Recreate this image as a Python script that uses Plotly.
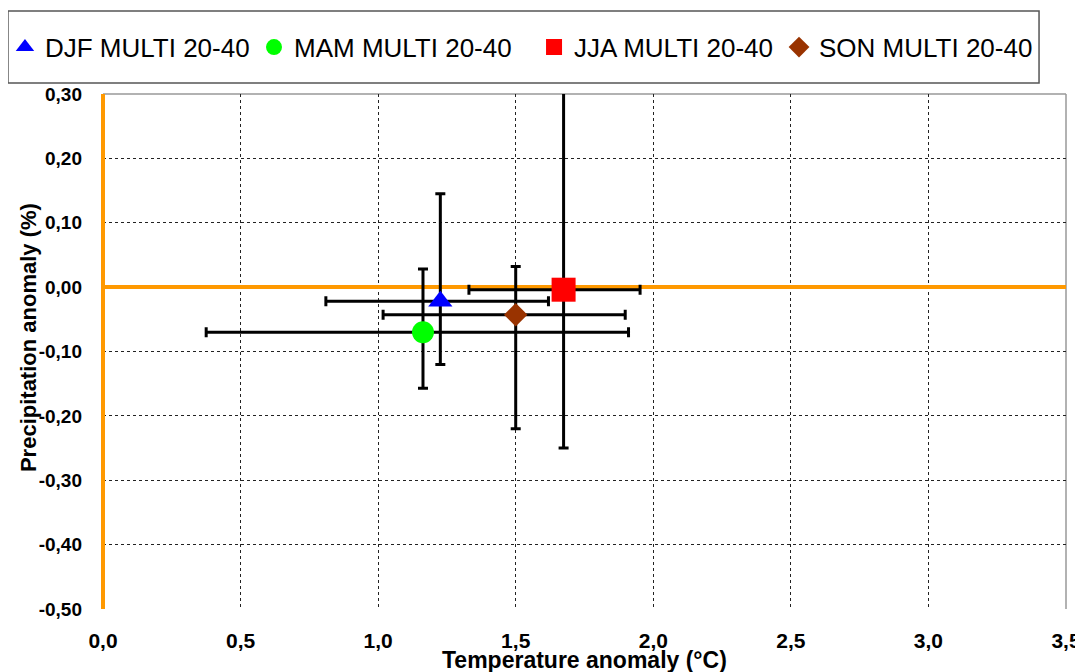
import plotly.graph_objects as go

# ---- data ----
series_names = ["DJF MULTI 20-40", "MAM MULTI 20-40", "JJA MULTI 20-40", "SON MULTI 20-40"]
temp = [1.226, 1.163, 1.674, 1.500]
precip = [-0.022, -0.070, -0.004, -0.043]
temp_low = [0.81, 0.375, 1.330, 1.018]
temp_high = [1.619, 1.910, 1.952, 1.898]
precip_low = [-0.120, -0.157, -0.250, -0.220]
precip_high = [0.145, 0.028, 0.309, 0.032]

symbols = ["triangle-up", "circle", "square", "diamond"]
colors = ["#0000FF", "#00FF00", "#FF0000", "#993300"]
sizes = [21, 22, 24, 18]
legend_ids = ["legend", "legend2", "legend3", "legend4"]
legend_x = [-0.1018, 0.1568, 0.4476, 0.7020]

x_ticks = [0.0, 0.5, 1.0, 1.5, 2.0, 2.5, 3.0, 3.5]
x_ticklabels = ["0,0", "0,5", "1,0", "1,5", "2,0", "2,5", "3,0", "3,5"]
y_ticks = [0.3, 0.2, 0.1, 0.0, -0.1, -0.2, -0.3, -0.4, -0.5]
y_ticklabels = ["0,30", "0,20", "0,10", "0,00", "-0,10", "-0,20", "-0,30", "-0,40", "-0,50"]

FONT = "Liberation Sans, Arial, sans-serif"

fig = go.Figure()
for i, name in enumerate(series_names):
    fig.add_trace(go.Scatter(
        x=[temp[i]], y=[precip[i]], mode="markers", name=name, legend=legend_ids[i],
        marker=dict(symbol=symbols[i], color=colors[i], size=sizes[i], line=dict(width=0)),
        error_x=dict(type="data", symmetric=False,
                     array=[temp_high[i] - temp[i]], arrayminus=[temp[i] - temp_low[i]],
                     color="black", thickness=3, width=5),
        error_y=dict(type="data", symmetric=False,
                     array=[precip_high[i] - precip[i]], arrayminus=[precip[i] - precip_low[i]],
                     color="black", thickness=3, width=5),
    ))

legends = {}
for i, lid in enumerate(legend_ids):
    legends[lid] = dict(orientation="h", x=legend_x[i], xanchor="left", y=1.091, yanchor="middle",
                        font=dict(size=26, family=FONT), bgcolor="rgba(0,0,0,0)",
                        borderwidth=0, itemclick=False, itemdoubleclick=False)

fig.update_layout(
    width=1075, height=664,
    margin=dict(l=95, r=17, t=86, b=63, autoexpand=False),
    paper_bgcolor="white", plot_bgcolor="white",
    font=dict(family=FONT, color="black"),
    showlegend=True,
    xaxis=dict(range=[0, 3.5], tickvals=x_ticks, ticktext=x_ticklabels, automargin=False,
               showgrid=True, gridcolor="#222", griddash="3px,3px", gridwidth=1,
               zeroline=True, zerolinecolor="#FF9900", zerolinewidth=4,
               showline=False, ticks="", ticklabelstandoff=17,
               tickfont=dict(size=21, family=FONT, weight="bold")),
    yaxis=dict(range=[-0.5, 0.3], tickvals=y_ticks, ticktext=y_ticklabels, automargin=False,
               showgrid=True, gridcolor="#222", griddash="3px,3px", gridwidth=1,
               zeroline=True, zerolinecolor="#FF9900", zerolinewidth=4,
               showline=False, ticks="", ticklabelstandoff=20,
               tickfont=dict(size=19, family=FONT, weight="bold")),
    shapes=[
        dict(type="line", xref="paper", yref="paper", x0=0, x1=1, y0=1, y1=1,
             line=dict(color="#999999", width=1.5), layer="below"),
        dict(type="line", xref="paper", yref="paper", x0=1, x1=1, y0=0, y1=1,
             line=dict(color="#999999", width=1.5), layer="below"),
        dict(type="rect", xref="paper", yref="paper",
             x0=-0.0987, x1=0.972, y0=1.0214, y1=1.161,
             line=dict(color="#555555", width=1.5), fillcolor="rgba(0,0,0,0)"),
    ],
    annotations=[
        dict(text="<b>Temperature anomaly (°C)</b>", xref="paper", yref="paper",
             x=0.5, y=-0.099, xanchor="center", yanchor="middle", showarrow=False,
             font=dict(size=23, family=FONT)),
        dict(text="<b>Precipitation anomaly (%)</b>", xref="paper", yref="paper",
             x=-0.0779, y=0.528, xanchor="center", yanchor="middle", showarrow=False,
             textangle=-90, font=dict(size=22, family=FONT)),
    ],
)
fig.update_layout(**legends)

fig.write_html("out.html")
